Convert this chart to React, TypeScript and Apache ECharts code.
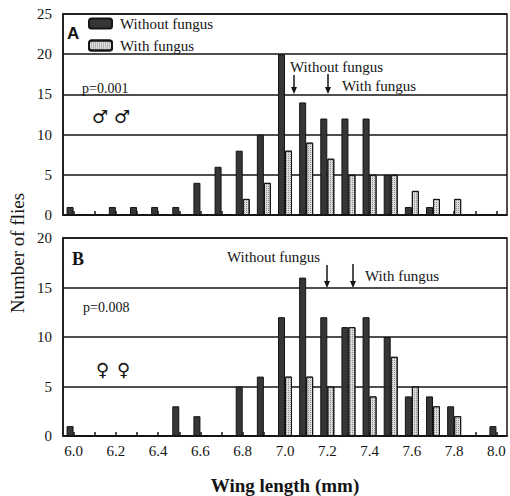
import React, { useEffect, useRef } from "react";
import * as echarts from "echarts";

const categories = ["6.0","6.1","6.2","6.3","6.4","6.5","6.6","6.7","6.8","6.9","7.0","7.1","7.2","7.3","7.4","7.5","7.6","7.7","7.8","7.9","8.0"];
const maleWithout = [1,0,1,1,1,1,4,6,8,10,20,14,12,12,12,5,1,1,0,0,0];
const maleWith = [0,0,0,0,0,0,0,0,2,4,8,9,7,5,5,5,3,2,2,0,0];
const femaleWithout = [1,0,0,0,0,3,2,0,5,6,12,16,12,11,12,10,4,4,3,0,1];
const femaleWith = [0,0,0,0,0,0,0,0,0,0,6,6,5,11,4,8,5,3,2,0,0];
const seriesNames = ["Without fungus", "With fungus"];

const SERIF = "'Liberation Serif', 'Times New Roman', serif";
const SANS = "'Liberation Sans', Arial, sans-serif";
const SYM = "'DejaVu Sans', sans-serif";
const INK = "#141414";

function arrow(x: number, y1: number, y2: number) {
  return [
    { type: "line", shape: { x1: x, y1, x2: x, y2: y2 - 5 }, style: { stroke: INK, lineWidth: 1.5 } },
    { type: "polygon", shape: { points: [[x - 3, y2 - 7], [x + 3, y2 - 7], [x, y2]] }, style: { fill: INK } },
  ];
}

function sym(ch: string, x: number, y: number) {
  return { type: "text", x, y, style: { text: ch, fontFamily: SYM, fontSize: 18, fontWeight: "bold", fill: INK, verticalAlign: "middle" } };
}

export default function App() {
  const ref = useRef<HTMLDivElement>(null);
  useEffect(() => {
    document.body.style.margin = "0";
    if (!ref.current) return;
    const chart = echarts.init(ref.current, null, { renderer: "svg" });
    const darkStyle = { color: "#363636", borderColor: INK, borderWidth: 1 };
    const lightStyle = {
      color: "#dcdcdc",
      borderColor: INK,
      borderWidth: 1,
      decal: { symbol: "rect", symbolSize: 1, color: "rgba(0,0,0,0.35)", dashArrayX: [1, 1], dashArrayY: [1, 1] },
    };
    const yAxisBase = {
      type: "value",
      min: 0,
      interval: 5,
      axisLine: { show: true, lineStyle: { color: INK, width: 1.5 } },
      axisTick: { show: false },
      splitLine: { show: true, lineStyle: { color: INK, width: 1.5 } },
      axisLabel: { fontFamily: SERIF, fontSize: 15, color: INK, margin: 11 },
    };
    const xAxisBase = {
      type: "category",
      data: categories,
      boundaryGap: true,
      axisLine: { show: true, lineStyle: { color: INK, width: 1.5 } },
      axisTick: { show: true, inside: true, alignWithLabel: true, interval: 0, length: 4, lineStyle: { color: INK, width: 1.5 } },
      splitLine: { show: false },
    };
    chart.setOption({
      animation: false,
      backgroundColor: "#ffffff",
      grid: [
        { left: 63, top: 14, width: 444, height: 201, show: true, borderColor: INK, borderWidth: 1.5, backgroundColor: "transparent" },
        { left: 63, top: 238, width: 444, height: 202, show: true, borderColor: INK, borderWidth: 1.5, backgroundColor: "transparent" },
      ],
      xAxis: [
        { ...xAxisBase, gridIndex: 0, axisLabel: { show: false } },
        {
          ...xAxisBase,
          gridIndex: 1,
          axisLabel: { show: true, interval: 1, fontFamily: SERIF, fontSize: 15, color: INK, margin: 7 },
          name: "Wing length (mm)",
          nameLocation: "middle",
          nameGap: 40,
          nameTextStyle: { fontFamily: SERIF, fontSize: 19, fontWeight: "bold", color: INK },
        },
      ],
      yAxis: [
        { ...yAxisBase, gridIndex: 0, max: 25 },
        { ...yAxisBase, gridIndex: 1, max: 20 },
      ],
      legend: {
        orient: "vertical",
        left: 88,
        top: 16,
        padding: 0,
        itemWidth: 23,
        itemHeight: 10,
        itemGap: 7,
        data: seriesNames,
        textStyle: { fontFamily: SERIF, fontSize: 15, color: INK, padding: [0, 0, 0, 3] },
      },
      series: [
        { name: seriesNames[0], type: "bar", xAxisIndex: 0, yAxisIndex: 0, data: maleWithout, barWidth: 7, barGap: "0%", itemStyle: darkStyle },
        { name: seriesNames[1], type: "bar", xAxisIndex: 0, yAxisIndex: 0, data: maleWith, barWidth: 7, barGap: "0%", itemStyle: lightStyle },
        { name: seriesNames[0], type: "bar", xAxisIndex: 1, yAxisIndex: 1, data: femaleWithout, barWidth: 7, barGap: "0%", itemStyle: darkStyle },
        { name: seriesNames[1], type: "bar", xAxisIndex: 1, yAxisIndex: 1, data: femaleWith, barWidth: 7, barGap: "0%", itemStyle: lightStyle },
      ],
      graphic: [
        { type: "text", x: 17, y: 253, rotation: Math.PI / 2, style: { text: "Number of flies", fontFamily: SERIF, fontSize: 19, fill: INK, align: "center", verticalAlign: "middle" } },
        { type: "text", x: 67, y: 33, style: { text: "A", fontFamily: SANS, fontSize: 17, fontWeight: "bold", fill: INK, verticalAlign: "middle" } },
        { type: "text", x: 82, y: 88, style: { text: "p=0.001", fontFamily: SERIF, fontSize: 14, fill: INK, verticalAlign: "middle" } },
        sym("♂", 92, 116),
        sym("♂", 114, 116),
        { type: "text", x: 290, y: 67, style: { text: "Without fungus", fontFamily: SERIF, fontSize: 15, fill: INK, verticalAlign: "middle" } },
        { type: "text", x: 342, y: 86, style: { text: "With fungus", fontFamily: SERIF, fontSize: 15, fill: INK, verticalAlign: "middle" } },
        ...arrow(294, 75, 94),
        ...arrow(328, 74, 94),
        { type: "text", x: 72, y: 259, style: { text: "B", fontFamily: SERIF, fontSize: 18, fontWeight: "bold", fill: INK, verticalAlign: "middle" } },
        { type: "text", x: 83, y: 307, style: { text: "p=0.008", fontFamily: SERIF, fontSize: 14, fill: INK, verticalAlign: "middle" } },
        sym("♀", 96, 369),
        sym("♀", 117, 369),
        { type: "text", x: 227, y: 257, style: { text: "Without fungus", fontFamily: SERIF, fontSize: 15, fill: INK, verticalAlign: "middle" } },
        { type: "text", x: 365, y: 276, style: { text: "With fungus", fontFamily: SERIF, fontSize: 15, fill: INK, verticalAlign: "middle" } },
        ...arrow(327, 265, 288),
        ...arrow(353, 264, 288),
      ],
    });
    return () => chart.dispose();
  }, []);
  return <div ref={ref} style={{ width: 510, height: 496 }} />;
}
